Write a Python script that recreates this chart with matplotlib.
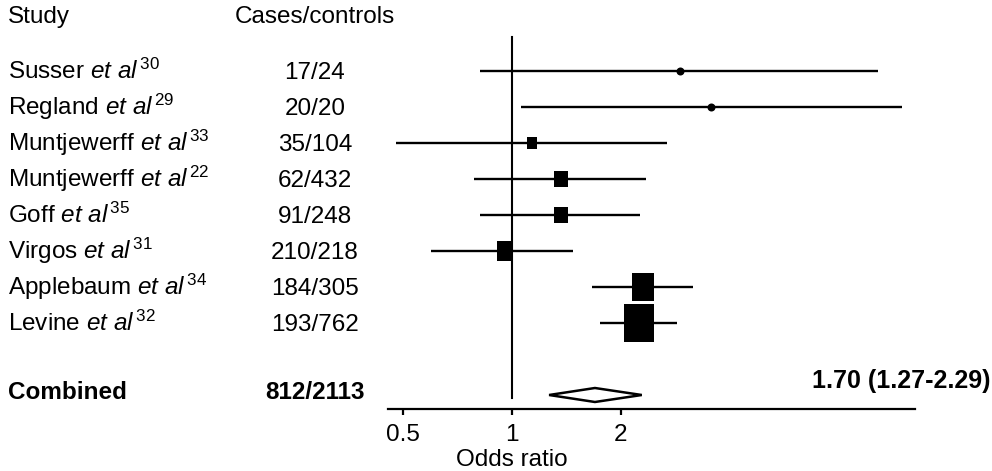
import numpy as np
import matplotlib
matplotlib.use("Agg")
import matplotlib.pyplot as plt
from matplotlib.patches import Polygon
from matplotlib.transforms import blended_transform_factory
from matplotlib.ticker import FixedLocator, FixedFormatter, NullLocator

# study rows, top to bottom
studies = ["Susser", "Regland", "Muntjewerff", "Muntjewerff", "Goff",
           "Virgos", "Applebaum", "Levine"]
refs = ["30", "29", "33", "22", "35", "31", "34", "32"]
cases_controls = ["17/24", "20/20", "35/104", "62/432", "91/248",
                  "210/218", "184/305", "193/762"]
odds_ratio = [2.92, 3.56, 1.14, 1.37, 1.37, 0.96, 2.31, 2.25]
ci_low = [0.82, 1.06, 0.48, 0.79, 0.82, 0.60, 1.67, 1.76]
ci_high = [10.3, 12.0, 2.69, 2.35, 2.26, 1.48, 3.17, 2.86]
weights = [3.1, 3.1, 3.9, 8.1, 8.1, 10.7, 23.1, 40.1]

combined_label = "Combined"
combined_cases = "812/2113"
combined_or = 1.70
combined_low = 1.27
combined_high = 2.29

tick_values = [0.5, 1, 2]
tick_labels = ["0.5", "1", "2"]

plt.rcParams["font.family"] = "Liberation Sans"
plt.rcParams["mathtext.fontset"] = "custom"
plt.rcParams["mathtext.rm"] = "Liberation Sans"
plt.rcParams["mathtext.it"] = "Liberation Sans:italic"
plt.rcParams["mathtext.bf"] = "Liberation Sans:bold"

W, H, DPI = 992, 471, 100
FS = 17.5
fig = plt.figure(figsize=(W / DPI, H / DPI), dpi=DPI)
ax = fig.add_axes([0, 0, 1, 1])

# x: OR=1 at 511.5 px, 109 px per doubling; y: row 0 at 71 px, 36 px per row
px_one, px_doub = 511.5, 109.0
ax.set_xscale("log", base=2)
ax.set_xlim(2 ** (-px_one / px_doub), 2 ** ((W - px_one) / px_doub))
row0, row_h = 71.0, 36.0
ax.set_ylim((H - row0) / row_h, -row0 / row_h)

rows = np.arange(len(studies))
combined_row = len(studies) + 1

for s in ["left", "right", "top"]:
    ax.spines[s].set_visible(False)
ax.spines["bottom"].set_position(("data", (409 - row0) / row_h))
ax.spines["bottom"].set_bounds(0.456, 13.0)
ax.spines["bottom"].set_linewidth(1.6)
ax.yaxis.set_major_locator(NullLocator())
ax.xaxis.set_major_locator(FixedLocator(tick_values))
ax.xaxis.set_major_formatter(FixedFormatter(tick_labels))
ax.xaxis.set_minor_locator(NullLocator())
ax.tick_params(axis="x", direction="out", length=4, width=1.6,
               pad=7, labelsize=FS)

# line of no effect
ax.plot([1, 1], [(37 - row0) / row_h, (398 - row0) / row_h],
        color="black", lw=1.5)

# confidence intervals
ax.hlines(rows, ci_low, ci_high, color="black", lw=1.7)

# study markers, box area ~ weight
rect = [(-0.39, -0.5), (0.39, -0.5), (0.39, 0.5), (-0.39, 0.5), (-0.39, -0.5)]
for r, o, w in zip(rows, odds_ratio, weights):
    if w < 3.5:
        ax.plot(o, r, marker="o", ms=8 * 72 / DPI, color="black", mew=0)
    else:
        h_px = 4.6 * np.sqrt(w) * 1.28
        ax.plot(o, r, marker=rect, ms=h_px * 72 / DPI, color="black", mew=0)

# pooled estimate
dh = 7 / row_h
diamond = Polygon([(combined_low, combined_row), (combined_or, combined_row - dh),
                   (combined_high, combined_row), (combined_or, combined_row + dh)],
                  closed=True, facecolor="white", edgecolor="black", lw=1.8)
ax.add_patch(diamond)

# text columns
tr = blended_transform_factory(ax.transAxes, ax.transData)
x_study = 8 / W
x_cases = 315 / W
ax.text(x_study, -1.5, "Study", transform=tr, fontsize=FS, va="center", ha="left")
ax.text(x_cases, -1.5, "Cases/controls", transform=tr, fontsize=FS,
        va="center", ha="center")
base = 8 / row_h
for r, name, ref, cc in zip(rows, studies, refs, cases_controls):
    label = name + r" $\mathit{et\ al}\,^{\mathrm{" + ref + "}}$"
    ax.text(x_study, r + base, label, transform=tr, fontsize=FS,
            va="baseline", ha="left")
    ax.text(x_cases, r + base, cc, transform=tr, fontsize=FS,
            va="baseline", ha="center")

ax.text(x_study, combined_row - 0.08, combined_label, transform=tr, fontsize=FS,
        fontweight="bold", va="center", ha="left")
ax.text(x_cases, combined_row - 0.08, combined_cases, transform=tr, fontsize=FS,
        fontweight="bold", va="center", ha="center")
ax.text(990 / W, (381 - row0) / row_h,
        f"{combined_or:.2f} ({combined_low:.2f}-{combined_high:.2f})",
        transform=tr, fontsize=18, fontweight="bold", va="center", ha="right")

ax.text(1, (460 - row0) / row_h, "Odds ratio", fontsize=FS,
        va="center", ha="center")

fig.savefig("out.png", dpi=DPI)
